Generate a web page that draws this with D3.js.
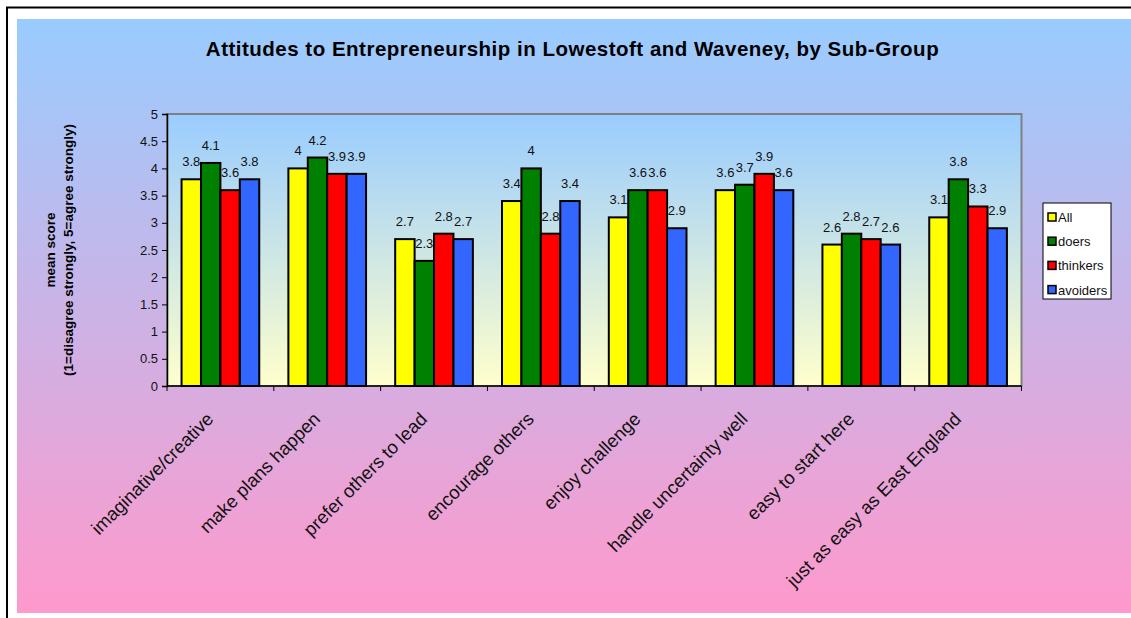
<!DOCTYPE html>
<html>
<head>
<meta charset="utf-8">
<script src="https://cdn.jsdelivr.net/npm/d3@7"></script>
<style>
    body { margin: 0; background: #fff; }
    svg { display: block; font-family: Arial, "Liberation Sans", sans-serif; }
</style>
</head>
<body>
<div class="svg-target"></div>
<script>
const categories = [
    'imaginative/creative',
    'make plans happen',
    'prefer others to lead',
    'encourage others',
    'enjoy challenge',
    'handle uncertainty well',
    'easy to start here',
    'just as easy as East England'
];
const groups = ['All', 'doers', 'thinkers', 'avoiders'];
const allValues = [3.8, 4, 2.7, 3.4, 3.1, 3.6, 2.6, 3.1];
const doersValues = [4.1, 4.2, 2.3, 4, 3.6, 3.7, 2.8, 3.8];
const thinkersValues = [3.6, 3.9, 2.8, 2.8, 3.6, 3.9, 2.7, 3.3];
const avoidersValues = [3.8, 3.9, 2.7, 3.4, 2.9, 3.6, 2.6, 2.9];
const yTicks = [0, 0.5, 1, 1.5, 2, 2.5, 3, 3.5, 4, 4.5, 5];

const colors = ['#ffff00', '#008000', '#ff0000', '#3366ff'];
const series = [allValues, doersValues, thinkersValues, avoidersValues];

const w = 1131;
const h = 618;
const plot = { left: 167, right: 1021.5, top: 114, bottom: 386 };

const svg = d3.select('.svg-target')
    .append('svg')
    .attr('width', w)
    .attr('height', h);

// gradients
const defs = svg.append('defs');
const outerGrad = defs.append('linearGradient')
    .attr('id', 'outer-grad')
    .attr('x1', 0).attr('y1', 0).attr('x2', 0).attr('y2', 1);
outerGrad.append('stop').attr('offset', '0%').attr('stop-color', '#99ccff');
outerGrad.append('stop').attr('offset', '100%').attr('stop-color', '#ff99cc');

const plotGrad = defs.append('linearGradient')
    .attr('id', 'plot-grad')
    .attr('x1', 0).attr('y1', 0).attr('x2', 0).attr('y2', 1);
plotGrad.append('stop').attr('offset', '0%').attr('stop-color', '#99ccff');
plotGrad.append('stop').attr('offset', '100%').attr('stop-color', '#ffffcc');

// frame and background
svg.append('rect')
    .attr('x', 7).attr('y', 7.5)
    .attr('width', w + 10).attr('height', h + 10)
    .attr('fill', '#fff')
    .attr('stroke', '#000')
    .attr('stroke-width', 2);

svg.append('rect')
    .attr('x', 17).attr('y', 19)
    .attr('width', w - 17).attr('height', 594)
    .attr('fill', 'url(#outer-grad)');

// title
svg.append('text')
    .attr('x', 572.5)
    .attr('y', 56)
    .attr('text-anchor', 'middle')
    .attr('font-size', 20.5)
    .attr('letter-spacing', 0.5)
    .attr('font-weight', 'bold')
    .text('Attitudes to Entrepreneurship in Lowestoft and Waveney, by Sub-Group');

// scales
const xScale = d3.scaleBand()
    .domain(categories)
    .range([plot.left, plot.right]);

const xInner = d3.scaleBand()
    .domain(groups)
    .range([0, xScale.bandwidth()])
    .paddingOuter(0.75);

const yScale = d3.scaleLinear()
    .domain([0, 5])
    .range([plot.bottom, plot.top]);

// plot area
svg.append('rect')
    .attr('x', plot.left).attr('y', plot.top)
    .attr('width', plot.right - plot.left)
    .attr('height', plot.bottom - plot.top)
    .attr('fill', 'url(#plot-grad)')
    .attr('stroke', '#808080')
    .attr('stroke-width', 2);

// bars
const barData = [];
categories.forEach((c, i) => {
    groups.forEach((g, j) => {
        barData.push({ cat: c, group: g, value: series[j][i], color: colors[j] });
    });
});

const bars = svg.append('g');
bars.selectAll('rect')
    .data(barData)
    .enter()
    .append('rect')
        .attr('x', d => xScale(d.cat) + xInner(d.group))
        .attr('y', d => yScale(d.value))
        .attr('width', xInner.bandwidth())
        .attr('height', d => yScale(0) - yScale(d.value))
        .attr('fill', d => d.color)
        .attr('stroke', '#000')
        .attr('stroke-width', 2);

bars.selectAll('text')
    .data(barData)
    .enter()
    .append('text')
        .attr('x', d => xScale(d.cat) + xInner(d.group) + xInner.bandwidth() / 2)
        .attr('y', d => yScale(d.value) - 13)
        .attr('text-anchor', 'middle')
        .attr('font-size', 13)
        .attr('fill', '#111')
        .text(d => d3.format('~g')(d.value));

// y axis
const yAxis = d3.axisLeft(yScale)
    .tickValues(yTicks)
    .tickSize(5)
    .tickFormat(d3.format('~g'));

const yG = svg.append('g')
    .attr('transform', `translate(${plot.left}, 0)`)
    .call(yAxis);
yG.select('.domain').attr('stroke', '#000').attr('stroke-width', 1.5);
yG.selectAll('.tick line').attr('stroke', '#000');
yG.selectAll('.tick text')
    .attr('font-size', 13)
    .attr('font-family', 'Arial, "Liberation Sans", sans-serif')
    .attr('fill', '#111')
    .attr('x', -9);

// x axis
const boundaries = categories.map(c => xScale(c)).concat([plot.right]);
const xG = svg.append('g');
xG.append('line')
    .attr('x1', plot.left).attr('x2', plot.right)
    .attr('y1', plot.bottom).attr('y2', plot.bottom)
    .attr('stroke', '#000')
    .attr('stroke-width', 1.5);
xG.selectAll('.xtick')
    .data(boundaries)
    .enter()
    .append('line')
        .attr('x1', d => d).attr('x2', d => d)
        .attr('y1', plot.bottom).attr('y2', plot.bottom + 5)
        .attr('stroke', '#000');

xG.selectAll('.cat-label')
    .data(categories)
    .enter()
    .append('text')
        .attr('transform', d => `translate(${xScale(d) + xScale.bandwidth() / 2 - 15}, ${plot.bottom + 25}) rotate(-45)`)
        .attr('text-anchor', 'end')
        .attr('dy', '0.7em')
        .attr('font-size', 18.5)
        .attr('fill', '#111')
        .text(d => d);

// y axis title
const yTitle = svg.append('text')
    .attr('transform', 'translate(55, 250) rotate(-90)')
    .attr('text-anchor', 'middle')
    .attr('font-size', 13.5)
    .attr('font-weight', 'bold');
yTitle.append('tspan').attr('x', 0).attr('dy', 0).text('mean score');
yTitle.append('tspan').attr('x', 0).attr('dy', 18).text('(1=disagree strongly, 5=agree strongly)');

// legend
const legend = svg.append('g')
    .attr('transform', 'translate(1043, 203)');
legend.append('rect')
    .attr('width', 68)
    .attr('height', 96)
    .attr('fill', '#fff')
    .attr('stroke', '#000')
    .attr('stroke-width', 1);

const items = legend.selectAll('.item')
    .data(groups)
    .enter()
    .append('g')
        .attr('transform', (d, i) => `translate(0, ${10 + i * 24.2})`);
items.append('rect')
    .attr('x', 5).attr('y', 0)
    .attr('width', 8).attr('height', 8)
    .attr('fill', (d, i) => colors[i])
    .attr('stroke', '#000')
    .attr('stroke-width', 1.5);
items.append('text')
    .attr('x', 15)
    .attr('y', 9)
    .attr('font-size', 13)
    .attr('fill', '#111')
    .text(d => d);
</script>
</body>
</html>
